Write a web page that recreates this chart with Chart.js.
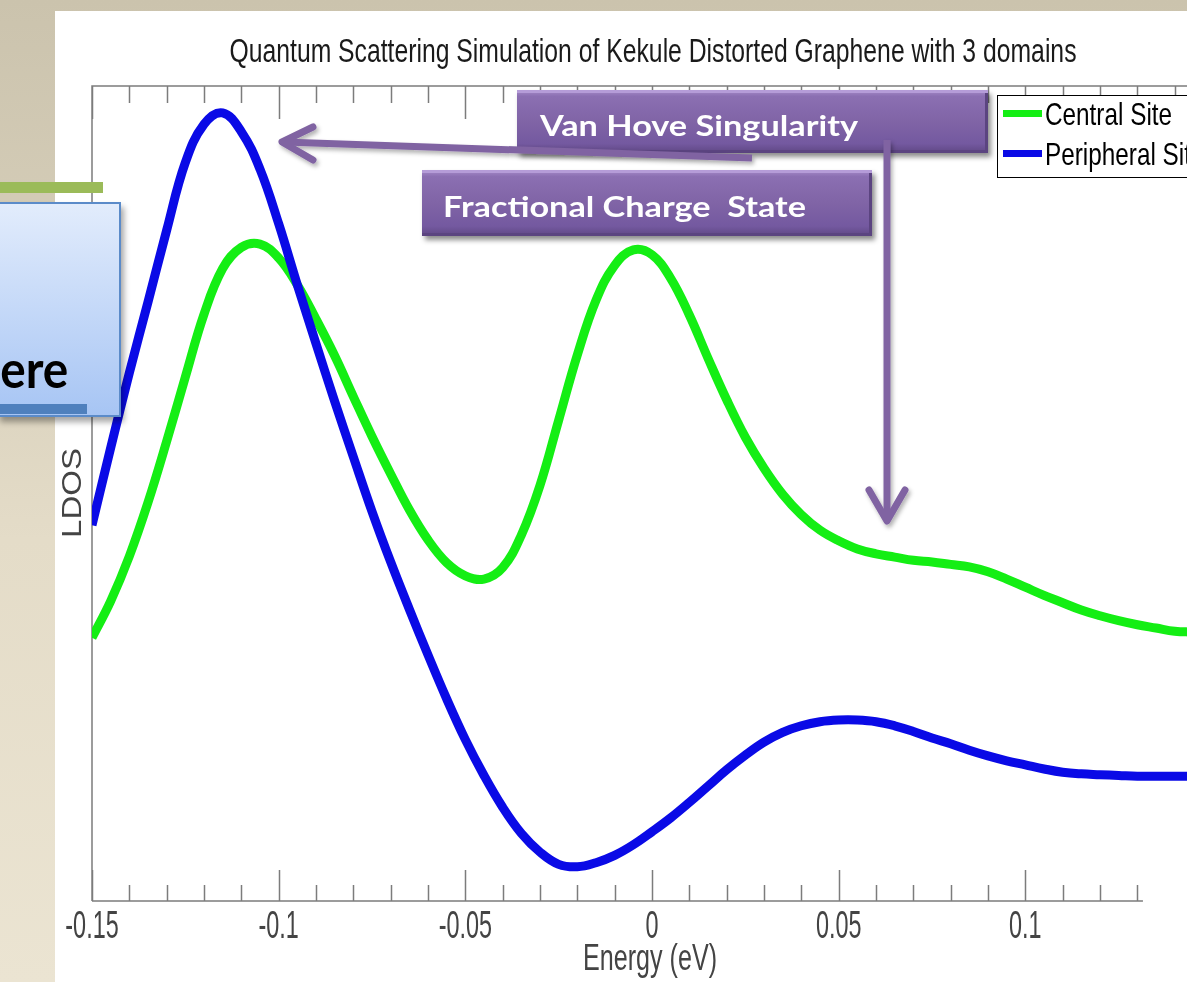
<!DOCTYPE html>
<html>
<head>
<meta charset="utf-8">
<script src="https://cdn.jsdelivr.net/npm/chart.js@4/dist/chart.umd.min.js"></script>
<style>
html, body { margin: 0; padding: 0; }
body {
  width: 1187px; height: 982px; overflow: hidden; position: relative;
  background: linear-gradient(#cbc3ad 0%, #d5cdb8 25%, #e4dcc8 55%, #ebe4d2 100%);
}
#panel { position: absolute; left: 55px; top: 11px; width: 1132px; height: 971px; background: #fff; }
#c { position: absolute; left: 0; top: 0; }
#greenbar { position: absolute; left: 0; top: 182px; width: 103px; height: 11px; background: #9bbb59; }
#bbox {
  position: absolute; left: -3px; top: 202px; width: 120px; height: 211px;
  border: 2px solid #5b8bc9;
  background: linear-gradient(#e2ecfc, #a7c5f4);
  box-shadow: 3px 5px 6px rgba(0,0,0,0.35);
}
#bstrip { position: absolute; left: 0; top: 404px; width: 87px; height: 10px; background: #4f80bd; }
.txt { position: absolute; font-family: Lato, 'Open Sans', sans-serif; font-weight: bold; line-height: 1.2; white-space: pre; }
#ere { color: #000; font-size: 52px; top: 337px; right: 1119px; transform-origin: right center; }
.pbox {
  position: absolute;
  background: linear-gradient(180deg, #a68bc9 0%, #8b6fb2 10%, #8064a6 50%, #7459a0 85%, #5f4784 100%);
  box-shadow: inset 0 3px 0 #b59cd8, inset -3px -3px 0 #5b4480, 3px 4px 5px rgba(0,0,0,0.45);
}
#vh { left: 517px; top: 90px; width: 471px; height: 63px; }
#fc { left: 422px; top: 170px; width: 450px; height: 66px; }
.ptxt { color: #fff; font-size: 28px; transform-origin: left center; }
#arrows { position: absolute; left: 0; top: 0; }
</style>
</head>
<body>
<div id="panel"></div>
<canvas id="c" width="1187" height="982"></canvas>
<div id="greenbar"></div>
<div id="bbox"></div>
<div id="bstrip"></div>
<span class="txt" id="ere">ere</span>
<div class="pbox" id="vh"></div>
<div class="pbox" id="fc"></div>
<span class="txt ptxt" id="vht" style="left:540px;top:109px">Van Hove Singularity</span>
<span class="txt ptxt" id="fct" style="left:443px;top:190px">Fractional Charge  State</span>
<svg id="arrows" width="1187" height="982">
  <defs>
    <filter id="sh" x="-10%" y="-10%" width="130%" height="130%">
      <feDropShadow dx="2" dy="3" stdDeviation="2" flood-opacity="0.3"/>
    </filter>
  </defs>
  <g stroke="#8064a2" stroke-width="7" fill="none" filter="url(#sh)">
    <path d="M752 158 L284 142"/>
    <path d="M313 127 L282 142 L313 160" stroke-linecap="round" stroke-linejoin="round"/>
    <path d="M887 140 L887 518"/>
    <path d="M869 490 L887 521 L905 490" stroke-linecap="round" stroke-linejoin="round"/>
  </g>
</svg>
<script>
// energy grid (eV)
const energy = [-0.150,-0.145,-0.140,-0.135,-0.130,-0.125,-0.120,-0.115,-0.110,-0.105,
  -0.100,-0.095,-0.090,-0.085,-0.080,-0.075,-0.070,-0.065,-0.060,-0.055,
  -0.050,-0.045,-0.040,-0.035,-0.030,-0.025,-0.020,-0.015,-0.010,-0.005,
  0.000,0.005,0.010,0.015,0.020,0.025,0.030,0.035,0.040,0.045,
  0.050,0.055,0.060,0.065,0.070,0.075,0.080,0.085,0.090,0.095,
  0.100,0.105,0.110,0.115,0.120,0.125,0.130,0.135,0.140,0.145]

// LDOS, arbitrary units
const central = [32.3,36.8,42.3,48.9,56.4,64.3,72.0,77.6,80.2,80.6,
  78.9,75.6,71.4,66.9,61.9,57.0,52.4,48.0,44.3,41.5,
  39.9,39.5,40.9,44.9,51.0,59.0,67.0,73.7,78.0,79.9,
  79.3,76.4,71.9,66.6,61.5,56.9,53.1,49.9,47.4,45.5,
  44.2,43.2,42.6,42.2,41.8,41.6,41.3,41.0,40.4,39.5,
  38.5,37.5,36.6,35.7,35.0,34.4,33.9,33.5,33.1,33.0]

const peripheral = [46.1,55.6,64.8,73.5,82.3,90.6,95.3,96.7,94.4,89.8,
  83.1,75.6,68.4,61.3,54.5,47.8,41.6,35.8,30.2,24.8,
  19.8,15.4,11.5,8.3,6.0,4.5,4.2,4.7,5.6,6.9,
  8.5,10.2,12.1,14.1,16.1,17.9,19.5,20.7,21.5,22.0,
  22.2,22.2,22.0,21.5,20.8,20.0,19.3,18.5,17.8,17.2,
  16.7,16.2,15.8,15.6,15.5,15.4,15.3,15.3,15.3,15.3]

const seriesNames = ['Central Site', 'Peripheral Site']
const seriesColors = ['#14ee14', '#0a0ae6']
const tickValues = [-0.15, -0.1, -0.05, 0, 0.05, 0.1]
const tickLabels = ['-0.15', '-0.1', '-0.05', '0', '0.05', '0.1']
const chartTitle = 'Quantum Scattering Simulation of Kekule Distorted Graphene with 3 domains'
const xTitle = 'Energy (eV)'
const yTitle = 'LDOS'

// squeezed text, like the stretched figure in the slide
function squeeze(ctx, s, x, y, size, sx, align) {
  ctx.save()
  ctx.font = size + 'px "Liberation Sans", Arial, sans-serif'
  ctx.translate(x, y)
  ctx.scale(sx, 1)
  ctx.textAlign = align
  ctx.textBaseline = 'alphabetic'
  ctx.fillText(s, 0, 0)
  ctx.restore()
}
function fitW(ctx, s, size, w) {
  ctx.font = size + 'px "Liberation Sans", Arial, sans-serif'
  return w / ctx.measureText(s).width
}

const frame = {
  id: 'frame',
  beforeDatasetsDraw(chart) {
    const {ctx, chartArea: a, scales: {x}} = chart
    ctx.save()
    ctx.strokeStyle = '#7c7c7c'
    ctx.lineWidth = 1.5
    ctx.beginPath()
    ctx.moveTo(a.left, a.bottom); ctx.lineTo(a.left, a.top); ctx.lineTo(a.right, a.top)
    ctx.moveTo(a.left, a.bottom); ctx.lineTo(x.getPixelForValue(0.1315), a.bottom)
    // ticks every 0.01, long ones at the labels
    for (let k = -15; k <= 14; k++) {
      const v = k / 100
      const px = Math.round(x.getPixelForValue(v)) + 0.5
      const major = k % 5 === 0
      ctx.moveTo(px, a.top); ctx.lineTo(px, a.top + (major ? 33 : 17))
      if (k <= 13) { ctx.moveTo(px, a.bottom); ctx.lineTo(px, a.bottom - (major ? 31 : 16)) }
    }
    ctx.stroke()
    ctx.restore()
  },
  afterDraw(chart) {
    const {ctx, scales: {x}} = chart
    ctx.save()
    ctx.fillStyle = '#444'
    tickValues.forEach((v, i) => squeeze(ctx, tickLabels[i], x.getPixelForValue(v), 938, 39, 0.6, 'center'))
    squeeze(ctx, xTitle, 650, 970, 36, fitW(ctx, xTitle, 36, 134), 'center')
    ctx.fillStyle = '#1a1a1a'
    squeeze(ctx, chartTitle, 653, 62, 34, fitW(ctx, chartTitle, 34, 847), 'center')
    // y title, rotated
    ctx.fillStyle = '#444'
    ctx.save()
    ctx.translate(81, 493)
    ctx.rotate(-Math.PI / 2)
    squeeze(ctx, yTitle, 0, 0, 27, fitW(ctx, yTitle, 27, 90), 'center')
    ctx.restore()
    // legend box (runs off the right edge)
    ctx.fillStyle = '#fff'
    ctx.fillRect(997, 95, 200, 83)
    ctx.strokeStyle = '#000'
    ctx.lineWidth = 1
    ctx.strokeRect(997.5, 95.5, 200, 82)
    const rows = [113.5, 153.5]
    chart.data.datasets.forEach((ds, i) => {
      ctx.strokeStyle = ds.borderColor
      ctx.lineWidth = 7
      ctx.beginPath(); ctx.moveTo(1003, rows[i]); ctx.lineTo(1042, rows[i]); ctx.stroke()
      ctx.fillStyle = '#000'
      squeeze(ctx, ds.label, 1045, rows[i] + 11.5, 32, 0.76, 'left')
    })
    ctx.restore()
  }
}

new Chart(document.getElementById('c'), {
  type: 'line',
  data: {
    datasets: [
      {
        label: seriesNames[0],
        data: energy.map((e, i) => ({x: e, y: central[i]})),
        borderColor: seriesColors[0], borderWidth: 9, pointRadius: 0,
        tension: 0.4, order: 1
      },
      {
        label: seriesNames[1],
        data: energy.map((e, i) => ({x: e, y: peripheral[i]})),
        borderColor: seriesColors[1], borderWidth: 9, pointRadius: 0,
        tension: 0.4, order: 0
      }
    ]
  },
  options: {
    responsive: false,
    animation: false,
    devicePixelRatio: 1,
    layout: {padding: {left: 92, top: 86, right: 0, bottom: 81}},
    scales: {
      x: {type: 'linear', min: -0.15, max: 0.1433, display: false},
      y: {min: 0, max: 100, display: false}
    },
    plugins: {legend: {display: false}, title: {display: false}, tooltip: {enabled: false}}
  },
  plugins: [frame]
})

// fit slide texts to the widths seen in the slide
function fitEl(id, w) {
  const el = document.getElementById(id)
  el.style.transform = 'scaleX(' + (w / el.getBoundingClientRect().width) + ')'
}
fitEl('vht', 318)
fitEl('fct', 363)
fitEl('ere', 68)
</script>
</body>
</html>
